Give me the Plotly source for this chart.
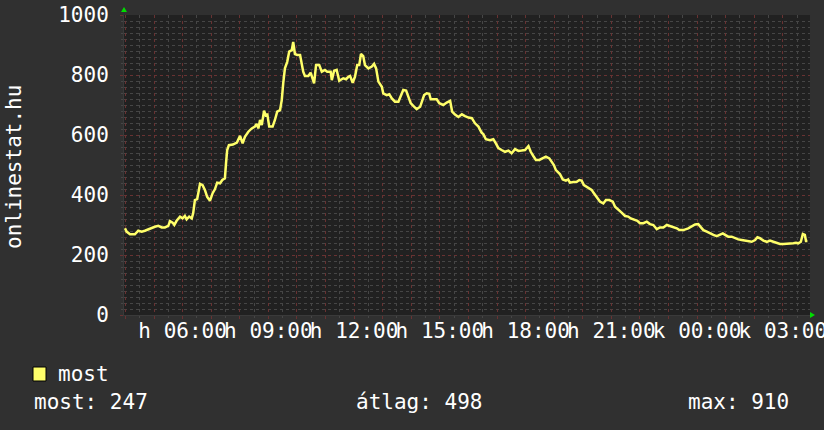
import plotly.graph_objects as go

# ---- data (hours since Monday 00:00, value) ----
hours = [3.985, 4.04, 4.16, 4.33, 4.45, 4.57, 4.68, 4.80, 4.92, 5.03, 5.15, 5.27, 5.38, 5.50,
         5.56, 5.65, 5.71, 5.79, 5.91, 6.00, 6.08, 6.14, 6.23, 6.32, 6.37, 6.43, 6.51, 6.61,
         6.70, 6.78, 6.86, 6.96, 7.05, 7.13, 7.21, 7.31, 7.39, 7.48, 7.52, 7.56, 7.62, 7.76,
         7.90, 8.01, 8.10, 8.18, 8.30, 8.42, 8.53, 8.59, 8.65, 8.71, 8.77, 8.85, 8.92, 8.96,
         9.03, 9.15, 9.23, 9.31, 9.41, 9.47, 9.52, 9.58, 9.66, 9.73, 9.82, 9.87, 9.93, 10.01,
         10.11, 10.17, 10.22, 10.28, 10.40, 10.48, 10.55, 10.60, 10.67, 10.78, 10.87, 10.98,
         11.06, 11.18, 11.22, 11.30, 11.39, 11.48, 11.62, 11.72, 11.80, 11.86, 11.95, 12.03,
         12.11, 12.18, 12.24, 12.32, 12.38, 12.50, 12.62, 12.70, 12.77, 12.85, 12.97, 13.02,
         13.14, 13.23, 13.32, 13.43, 13.55, 13.63, 13.72, 13.82, 13.90, 13.98, 14.07, 14.19,
         14.31, 14.37, 14.45, 14.54, 14.63, 14.68, 14.80, 14.89, 14.98, 15.12, 15.24, 15.36,
         15.43, 15.53, 15.65, 15.77, 15.88, 16.00, 16.12, 16.23, 16.35, 16.46, 16.52, 16.61,
         16.75, 16.87, 16.96, 17.05, 17.16, 17.28, 17.40, 17.51, 17.63, 17.75, 17.86, 17.98,
         18.10, 18.18, 18.27, 18.36, 18.48, 18.60, 18.71, 18.83, 18.91, 18.99, 19.06, 19.20,
         19.30, 19.41, 19.49, 19.55, 19.67, 19.79, 19.88, 19.96, 20.04, 20.14, 20.23, 20.31,
         20.39, 20.49, 20.60, 20.72, 20.81, 20.93, 21.05, 21.13, 21.24, 21.36, 21.48, 21.59,
         21.68, 21.79, 21.91, 22.00, 22.12, 22.24, 22.35, 22.47, 22.59, 22.70, 22.82, 22.94,
         23.05, 23.17, 23.29, 23.38, 23.52, 23.69, 23.81, 23.93, 24.04, 24.13, 24.22, 24.34,
         24.45, 24.57, 24.69, 24.80, 24.90, 24.98, 25.09, 25.21, 25.33, 25.44, 25.56, 25.68,
         25.79, 25.91, 26.03, 26.11, 26.20, 26.32, 26.44, 26.55, 26.67, 26.79, 26.90, 27.02,
         27.14, 27.25, 27.37, 27.46, 27.54, 27.63, 27.70, 27.77, 27.81, 27.86]
most = [289, 278, 269, 269, 281, 278, 281, 286, 290, 294, 297, 292, 292, 297,
        313, 308, 300, 314, 328, 322, 330, 319, 328, 322, 339, 383, 386, 437,
        433, 417, 394, 381, 406, 419, 441, 439, 450, 456, 506, 550, 566, 568,
        575, 597, 572, 594, 611, 622, 628, 637, 622, 650, 633, 681, 661, 672,
        628, 628, 650, 678, 683, 717, 772, 822, 844, 878, 883, 910, 870, 867,
        867, 833, 811, 797, 797, 808, 783, 772, 833, 833, 811, 817,
        811, 811, 783, 814, 817, 781, 789, 786, 794, 797, 774, 794,
        833, 833, 870, 863, 833, 822, 828, 837, 822, 778, 761, 739,
        733, 736, 722, 711, 711, 730, 750, 748, 728, 706, 697, 686,
        694, 711, 733, 739, 737, 719, 719, 719, 706, 700, 708, 714,
        678, 668, 660, 669, 663, 658, 656, 639, 628, 608, 603, 586,
        583, 586, 572, 556, 550, 544, 548, 539, 553, 547, 548, 550,
        563, 544, 530, 517, 517, 522, 528, 522, 511, 500, 483, 470,
        452, 448, 452, 441, 443, 444, 450, 448, 433, 428, 422, 417,
        406, 392, 378, 372, 383, 383, 378, 361, 350, 341, 330, 328,
        322, 319, 314, 306, 306, 311, 303, 300, 286, 292, 292, 300,
        297, 292, 289, 283, 283, 289, 297, 302, 303, 294, 283, 278,
        272, 267, 263, 267, 272, 267, 261, 261, 256, 252, 250, 248,
        244, 244, 250, 259, 256, 248, 244, 248, 244, 241, 237, 237,
        237, 239, 239, 241, 239, 244, 270, 267, 247, 247]

tick_hours = [4, 5, 6, 7, 8, 9, 10, 11, 12, 13, 14, 15, 16, 17, 18, 19, 20, 21, 22, 23, 24, 25, 26, 27]
tick_labels = ["", "", "h 06:00", "", "", "h 09:00", "", "", "h 12:00", "", "", "h 15:00", "", "",
               "h 18:00", "", "", "h 21:00", "", "", "k 00:00", "", "", "k 03:00"]

series_name = "most"
stat_most = 247
stat_avg = 498
stat_max = 910
y_title = "onlinestat.hu"

# ---- layout geometry helpers ----
W, H = 824, 430
L, R, T, B = 124, 810, 15, 315


def px(x):
    return (x - L) / (R - L)


def py(y):
    return (B - y) / (B - T)


FONT = "DejaVu Sans Mono"
FS = 21
BG = "#303030"
PLOT_BG = "#212121"
RED = "#683232"
GREY = "#464646"
YELLOW = "#ffff6a"
GREEN = "#00dd00"

fig = go.Figure()
fig.add_trace(go.Scatter(x=hours, y=most, mode="lines", name=series_name,
                         line=dict(color=YELLOW, width=2.5), showlegend=False))

fig.update_layout(
    width=W, height=H, autosize=False,
    margin=dict(l=L, r=W - R, t=T, b=H - B, pad=0),
    paper_bgcolor=BG, plot_bgcolor=PLOT_BG,
    font=dict(family=FONT, size=FS, color="white"),
    showlegend=False,
)
fig.update_xaxes(
    range=[3.95, 27.95], tickmode="array", tickvals=tick_hours, ticktext=tick_labels,
    tickangle=0, showgrid=True, gridcolor=RED, griddash="dot", gridwidth=1,
    ticks="outside", ticklen=3, tickcolor=RED, zeroline=False, automargin=False,
    showline=True, linecolor="#3a3a3a", linewidth=1,
    ticklabelstandoff=-6, ticklabeloverflow="allow",
    tickfont=dict(family=FONT, size=FS, color="white"),
    minor=dict(dtick=0.5, tick0=0, showgrid=True, gridcolor=GREY, griddash="dot",
               ticks="outside", ticklen=2, tickcolor=GREY),
)
fig.update_yaxes(
    range=[0, 1000], dtick=200, tick0=0, showgrid=True, gridcolor=RED, griddash="dot",
    ticks="outside", ticklen=3, tickcolor=RED, zeroline=False, automargin=False,
    showline=True, linecolor="#3a3a3a", linewidth=1, ticklabelstandoff=7,
    tickfont=dict(family=FONT, size=FS, color="white"),
    minor=dict(dtick=20, showgrid=True, gridcolor=GREY, griddash="dot",
               ticks="outside", ticklen=2, tickcolor=GREY),
)

shapes = []
# green arrows
shapes.append(dict(type="path", xref="paper", yref="paper", line=dict(width=0), fillcolor=GREEN,
                   path=f"M {px(121)} {py(12)} L {px(127)} {py(12)} L {px(124)} {py(7)} Z"))
shapes.append(dict(type="path", xref="paper", yref="paper", line=dict(width=0), fillcolor=GREEN,
                   path=f"M {px(810)} {py(312)} L {px(810)} {py(318)} L {px(815)} {py(315)} Z"))
# legend swatch
shapes.append(dict(type="rect", xref="paper", yref="paper",
                   x0=px(33), x1=px(46), y0=py(381), y1=py(367),
                   fillcolor=YELLOW, line=dict(color="black", width=1)))
fig.update_layout(shapes=shapes)

ann = [
    dict(text=y_title, x=px(14), y=py(167), textangle=-90),
    dict(text=series_name, x=px(56), y=py(374), xanchor="left"),
    dict(text=f"most: {stat_most}", x=px(32), y=py(402), xanchor="left"),
    dict(text=f"átlag: {stat_avg}", x=px(354), y=py(402), xanchor="left"),
    dict(text=f"max: {stat_max}", x=px(791), y=py(402), xanchor="right"),
]
for a in ann:
    a.update(xref="paper", yref="paper", showarrow=False,
             font=dict(family=FONT, size=FS, color="white"))
    a.setdefault("xanchor", "center")
    a.setdefault("yanchor", "middle")
fig.update_layout(annotations=ann)

fig.write_html(
    "out.html",
    config={"responsive": False, "displayModeBar": False},
    post_script="document.body.style.margin='0';document.body.style.overflow='hidden';",
)
